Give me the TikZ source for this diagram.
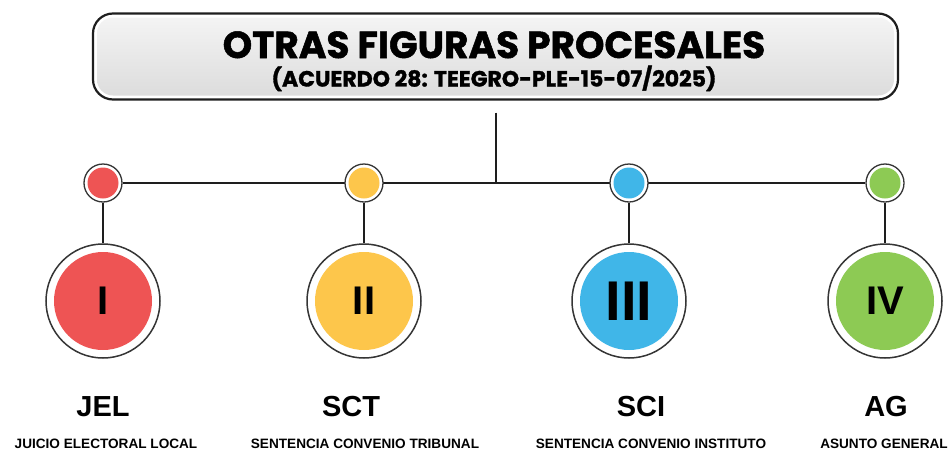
\documentclass[tikz,border=0pt]{standalone}
\usepackage{fontspec}
\setmainfont{Liberation Sans}
\newfontfamily\popfont{Poppins}[BoldFeatures={FakeBold=1.4}]
\usetikzlibrary{backgrounds}
\definecolor{redc}{RGB}{238,84,84}
\definecolor{yelc}{RGB}{253,198,75}
\definecolor{bluc}{RGB}{64,182,232}
\definecolor{grnc}{RGB}{141,202,84}
\definecolor{linec}{RGB}{30,30,30}
\begin{document}
\begin{tikzpicture}[x=1pt,y=-1pt,
  conn/.style={line width=2pt, draw=linec},
  smallc/.style={circle, minimum size=38pt, inner sep=0pt, draw=linec!90, line width=1.3pt, fill=white,
    path picture={\fill[#1] (path picture bounding box.center) circle (15.5pt);}},
  bigc/.style={circle, minimum size=114pt, inner sep=0pt, draw=linec!90, line width=1.5pt, fill=white,
    font=\bfseries\fontsize{40}{40}\selectfont,
    path picture={\fill[#1] (path picture bounding box.center) circle (49pt);}},
  abbr/.style={anchor=base, font=\bfseries\fontsize{29}{29}\selectfont},
  desc/.style={anchor=base, font=\bfseries\fontsize{13.6}{14}\selectfont},
]
\useasboundingbox (0,0) rectangle (950,450);

% header
\node[draw=linec, line width=2.2pt, rounded corners=20pt, fill=white,
  minimum width=805pt, minimum height=86pt, inner sep=0pt,
  path picture={\shade[top color=white!96!black, bottom color=white!86!black, rounded corners=16pt]
    ([shift={(4pt,4pt)}]path picture bounding box.south west) rectangle
    ([shift={(-4pt,-4pt)}]path picture bounding box.north east);}] (head) at (495.5,56.5) {};
\node[anchor=base, font=\popfont\bfseries\fontsize{37.5}{37}\selectfont] (title) at (494,58) {OTRAS FIGURAS PROCESALES};
\node[anchor=base, font=\popfont\bfseries\fontsize{22}{22}\selectfont] (subtitle) at (494,86.5) {(ACUERDO 28: TEEGRO-PLE-15-07/2025)};

% small circles
\node[smallc=redc] (s1) at (103,183) {};
\node[smallc=yelc] (s2) at (364,183) {};
\node[smallc=bluc] (s3) at (629,183) {};
\node[smallc=grnc] (s4) at (885,183) {};

% big circles
\node[bigc=redc] (b1) at (103,301) {I};
\node[bigc=yelc] (b2) at (364,301) {II};
\node[bigc=bluc, font=\bfseries\fontsize{56}{56}\selectfont] (b3) at (629,301) {III};
\node[bigc=grnc] (b4) at (885,301) {IV};

% labels
\node[abbr] (l1) at (103,416) {JEL};
\node[abbr] (l2) at (351,416) {SCT};
\node[abbr] (l3) at (641,416) {SCI};
\node[abbr] (l4) at (886,416) {AG};
\node[desc] (d1) at (106,448) {JUICIO ELECTORAL LOCAL};
\node[desc] (d2) at (365,448) {SENTENCIA CONVENIO TRIBUNAL};
\node[desc] (d3) at (651,448) {SENTENCIA CONVENIO INSTITUTO};
\node[desc] (d4) at (884,448) {ASUNTO GENERAL};

\begin{scope}[on background layer]
\draw[conn] ([yshift=-12pt]head.south) -- (head.south |- s1);
\draw[conn] (s1) -- (s4);
\end{scope}
\draw[conn] (s1) -- (b1);
\draw[conn] (s2) -- (b2);
\draw[conn] (s3) -- (b3);
\draw[conn] (s4) -- (b4);
\end{tikzpicture}
\end{document}
